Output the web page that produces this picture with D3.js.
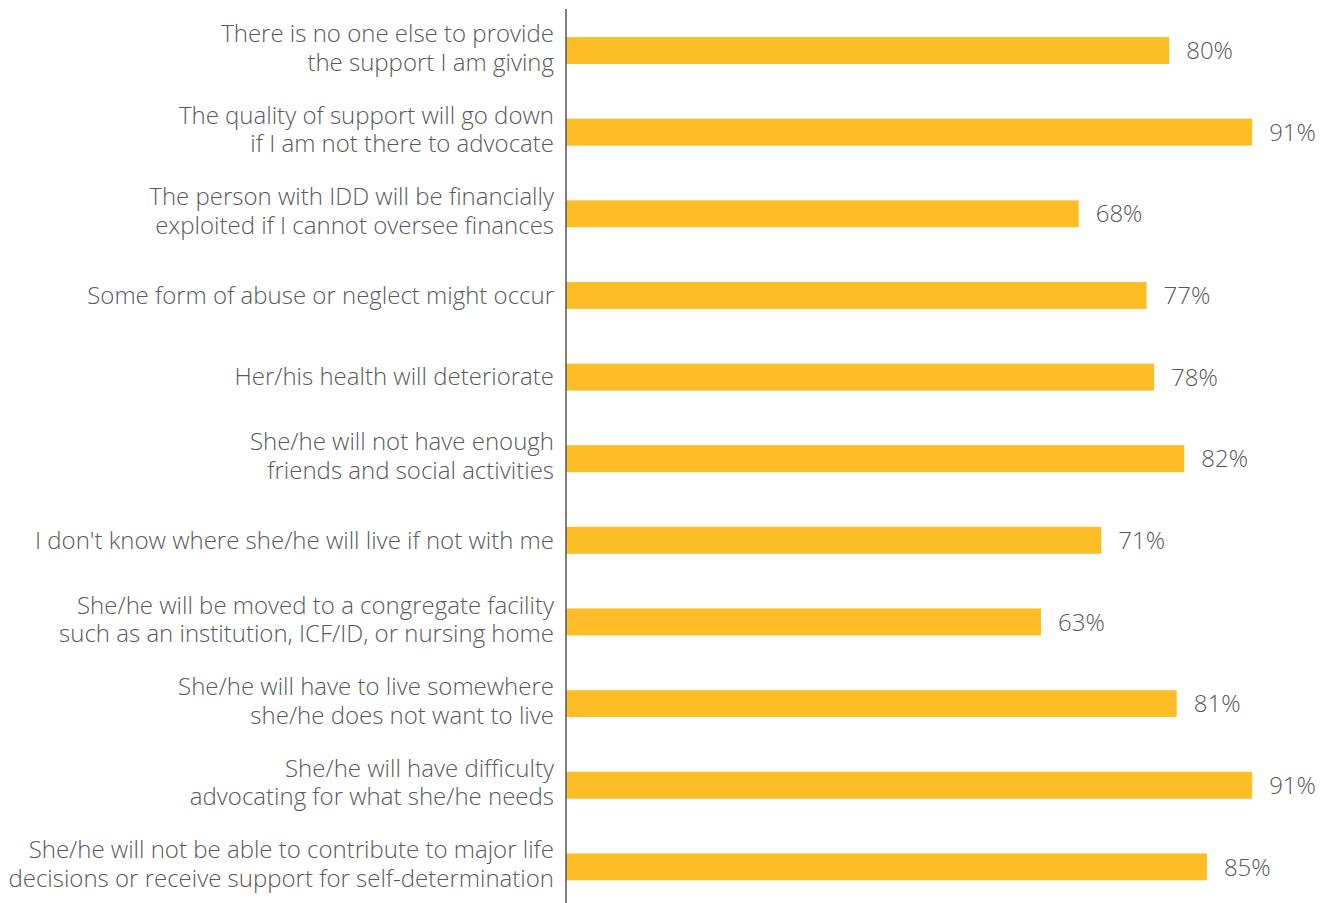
<!DOCTYPE html>
<html>
<head>
<meta charset="utf-8">
<script src="https://cdn.jsdelivr.net/npm/d3@7"></script>
<style>
  html, body { margin: 0; padding: 0; background: #fff; }
  svg text { font-family: "Open Sans", sans-serif; font-weight: 300; fill: #595959; }
</style>
</head>
<body>
<svg id="chart" width="1327" height="903"></svg>
<script>
// Worries about the future of the person with IDD (share of caregivers)
const categories = [
  ["There is no one else to provide", "the support I am giving"],
  ["The quality of support will go down", "if I am not there to advocate"],
  ["The person with IDD will be financially", "exploited if I cannot oversee finances"],
  ["Some form of abuse or neglect might occur"],
  ["Her/his health will deteriorate"],
  ["She/he will not have enough", "friends and social activities"],
  ["I don't know where she/he will live if not with me"],
  ["She/he will be moved to a congregate facility", "such as an institution, ICF/ID, or nursing home"],
  ["She/he will have to live somewhere", "she/he does not want to live"],
  ["She/he will have difficulty", "advocating for what she/he needs"],
  ["She/he will not be able to contribute to major life", "decisions or receive support for self-determination"]
];
const values = [80, 91, 68, 77, 78, 82, 71, 63, 81, 91, 85];

const svg = d3.select("#chart");
const x0 = 566;
const fs = 24;

const x = d3.scaleLinear().domain([0, 100]).range([x0, x0 + 754]);
const y = d3.scaleBand()
  .domain(d3.range(values.length))
  .range([9.7, 907.7])
  .paddingInner(0.67)
  .paddingOuter(0.335);

// bars
svg.append("g").selectAll("rect")
  .data(values)
  .join("rect")
  .attr("x", x(0))
  .attr("y", (d, i) => y(i))
  .attr("width", d => x(d) - x(0))
  .attr("height", y.bandwidth())
  .attr("fill", "#FDBD26");

// value labels
svg.append("g").selectAll("text")
  .data(values)
  .join("text")
  .attr("x", d => x(d) + 17)
  .attr("y", (d, i) => y(i) + y.bandwidth() / 2)
  .attr("dy", "0.36em")
  .attr("font-size", fs)
  .text(d => d + "%");

// category labels, wrapped over one or two lines
const lineGap = 28.5;
const lab = svg.append("g").selectAll("text")
  .data(categories)
  .join("text")
  .attr("text-anchor", "end")
  .attr("font-size", fs)
  .attr("y", (d, i) => y(i) + y.bandwidth() / 2 - (d.length > 1 ? 2.8 : 0.4));
lab.selectAll("tspan")
  .data(d => d.map((t, k) => ({ t, k, n: d.length })))
  .join("tspan")
  .attr("x", x0 - 12)
  .attr("dy", (d) => d.k === 0 ? (0.36 * fs - (d.n - 1) * lineGap / 2) + "px" : lineGap + "px")
  .text(d => d.t);

// vertical axis line
svg.append("line")
  .attr("x1", x0).attr("x2", x0)
  .attr("y1", 9).attr("y2", 903)
  .attr("stroke", "#555").attr("stroke-width", 1.5);
</script>
</body>
</html>
